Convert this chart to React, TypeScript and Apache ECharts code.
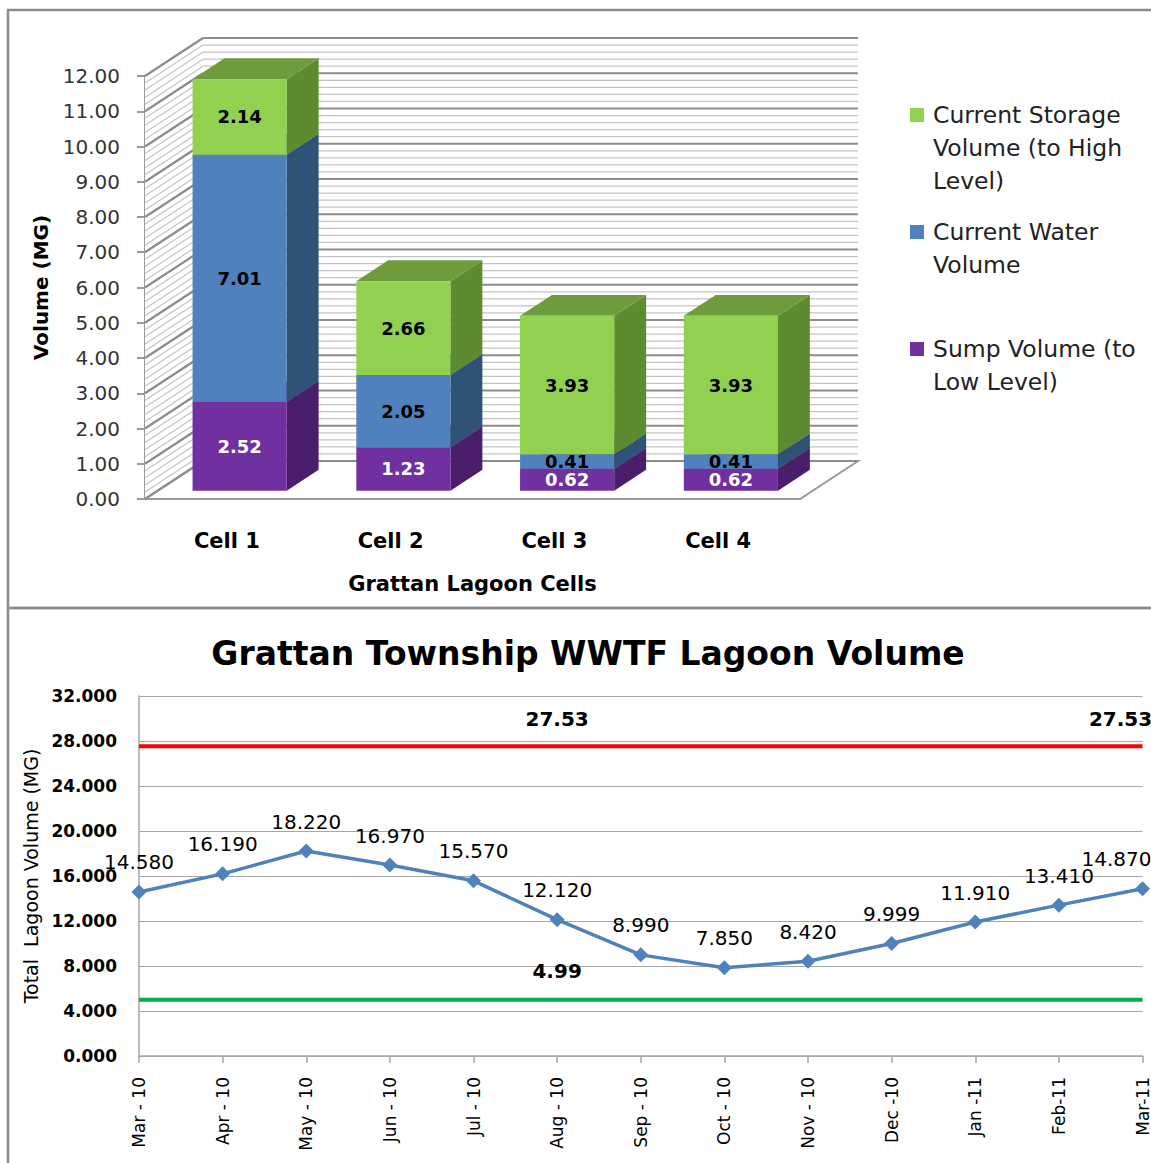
import React, { useEffect, useRef } from 'react';
import * as echarts from 'echarts';

// ---------- Top chart data ----------
const cells = ['Cell 1', 'Cell 2', 'Cell 3', 'Cell 4'];
const sumpVolume = [2.52, 1.23, 0.62, 0.62];
const waterVolume = [7.01, 2.05, 0.41, 0.41];
const storageVolume = [2.14, 2.66, 3.93, 3.93];
const seriesNames = [
  'Current Storage\nVolume (to High\nLevel)',
  'Current Water\nVolume',
  'Sump Volume (to\nLow Level)',
];
const topYMax = 12;
const topYInterval = 1;

// ---------- Bottom chart data ----------
const months = [
  'Mar - 10', 'Apr - 10', 'May - 10', 'Jun - 10', 'Jul - 10', 'Aug - 10', 'Sep - 10',
  'Oct - 10', 'Nov - 10', 'Dec -10', 'Jan -11', 'Feb-11', 'Mar-11',
];
const lagoonVolume = [14.58, 16.19, 18.22, 16.97, 15.57, 12.12, 8.99, 7.85, 8.42, 9.999, 11.91, 13.41, 14.87];
const highLevel = [27.53, 27.53, 27.53, 27.53, 27.53, 27.53, 27.53, 27.53, 27.53, 27.53, 27.53, 27.53, 27.53];
const lowLevel = [4.99, 4.99, 4.99, 4.99, 4.99, 4.99, 4.99, 4.99, 4.99, 4.99, 4.99, 4.99, 4.99];
const highLabelIdx = [5, 12];
const lowLabelIdx = [5];
const bottomYMax = 32;
const bottomYInterval = 4;

const FONT = "'DejaVu Sans', Verdana, sans-serif";

// 3D geometry (styles)
const DEPTH: [number, number] = [58, -38];
const BAR_FRONT = 0.22;
const BAR_DEPTH = 0.55;
const BAR_WIDTH = 0.575;
const MINOR_DIV = 5;

const GREEN = { front: '#92D050', top: '#6E9C3C', side: '#5F8B30' };
const BLUE = { front: '#4F81BD', top: '#4373A8', side: '#2F5277' };
const PURPLE = { front: '#7030A0', top: '#5E2787', side: '#4B1E6B' };

function renderWalls(params: any, api: any) {
  const cs = params.coordSys;
  const x0 = cs.x;
  const x1 = cs.x + cs.width;
  const [dx, dy] = DEPTH;
  const yAt = (v: number) => api.coord([0, v])[1];
  const yTop = yAt(topYMax);
  const yBot = yAt(0);
  const children: any[] = [];
  children.push({
    type: 'polygon',
    shape: { points: [[x0, yTop], [x0 + dx, yTop + dy], [x0 + dx, yBot + dy], [x0, yBot]] },
    style: { fill: '#ffffff' },
  });
  children.push({
    type: 'rect',
    shape: { x: x0 + dx, y: yTop + dy, width: x1 - x0, height: yBot - yTop },
    style: { fill: '#ffffff' },
  });
  children.push({
    type: 'polygon',
    shape: { points: [[x0, yBot], [x1, yBot], [x1 + dx, yBot + dy], [x0 + dx, yBot + dy]] },
    style: { fill: '#ffffff', stroke: '#9a9a9a', lineWidth: 2 },
  });
  const steps = Math.round((topYMax / topYInterval) * MINOR_DIV);
  for (let k = 0; k <= steps; k++) {
    const v = (k / MINOR_DIV) * topYInterval;
    const major = k % MINOR_DIV === 0;
    const y = yAt(v);
    const style = major
      ? { stroke: '#8c8c8c', lineWidth: 2.2 }
      : { stroke: '#c4c4c4', lineWidth: 1.2 };
    children.push({ type: 'line', shape: { x1: x0 + dx, y1: y + dy, x2: x1 + dx, y2: y + dy }, style });
    children.push({ type: 'line', shape: { x1: x0, y1: y, x2: x0 + dx, y2: y + dy }, style });
  }
  return { type: 'group', children };
}

function makeBarSeries(name: string, values: number[], bases: number[], colors: any, labelColor: string) {
  return {
    type: 'custom',
    name,
    xAxisIndex: 0,
    yAxisIndex: 0,
    z: 3,
    clip: false,
    data: values.map((v, i) => [i, bases[i], v]),
    renderItem: (params: any, api: any) => {
      const i = api.value(0);
      const base = api.value(1);
      const v = api.value(2);
      const [cx, yb] = api.coord([i, base]);
      const yt = api.coord([i, base + v])[1];
      const bw = api.size([1, 0])[0] * BAR_WIDTH;
      const ox = DEPTH[0] * BAR_FRONT;
      const oy = DEPTH[1] * BAR_FRONT;
      const bdx = DEPTH[0] * BAR_DEPTH;
      const bdy = DEPTH[1] * BAR_DEPTH;
      const xl = cx - bw / 2 + ox;
      const xr = cx + bw / 2 + ox;
      const yT = yt + oy;
      const yB = yb + oy;
      return {
        type: 'group',
        children: [
          {
            type: 'polygon',
            shape: { points: [[xr, yT], [xr + bdx, yT + bdy], [xr + bdx, yB + bdy], [xr, yB]] },
            style: { fill: colors.side },
          },
          {
            type: 'polygon',
            shape: { points: [[xl, yT], [xr, yT], [xr + bdx, yT + bdy], [xl + bdx, yT + bdy]] },
            style: { fill: colors.top },
          },
          {
            type: 'rect',
            shape: { x: xl, y: yT, width: xr - xl, height: yB - yT },
            style: { fill: colors.front },
          },
          {
            type: 'text',
            z2: 100,
            style: {
              text: v.toFixed(2),
              x: (xl + xr) / 2,
              y: (yT + yB) / 2,
              fill: labelColor,
              fontSize: 18,
              fontWeight: 'bold',
              fontFamily: FONT,
              align: 'center',
              verticalAlign: 'middle',
            },
          },
        ],
      };
    },
  };
}

function buildOption() {
  const sumpBase = sumpVolume.map(() => 0);
  const waterBase = sumpVolume.map((s) => s);
  const storageBase = sumpVolume.map((s, i) => s + waterVolume[i]);

  const legendColors = [GREEN.front, BLUE.front, PURPLE.front];
  const legendY = [115, 232, 349];
  const legendGraphics: any[] = [];
  seriesNames.forEach((n, i) => {
    legendGraphics.push({
      type: 'rect',
      shape: { x: 910, y: legendY[i] - 7, width: 14, height: 14 },
      style: { fill: legendColors[i] },
    });
    legendGraphics.push({
      type: 'text',
      x: 933,
      y: legendY[i] - 16.5,
      style: {
        text: n,
        fontSize: 23.5,
        fontFamily: FONT,
        fill: '#222',
        lineHeight: 33,
        align: 'left',
        verticalAlign: 'top',
      },
    });
  });

  const lineData = lagoonVolume.map((v, i) =>
    i === lagoonVolume.length - 1 ? { value: v, label: { offset: [-26, 0] } } : v
  );
  const highData = highLevel.map((v, i) =>
    highLabelIdx.includes(i)
      ? { value: v, label: { show: true, offset: i === highLevel.length - 1 ? [-22, 0] : [0, 0] } }
      : v
  );
  const lowData = lowLevel.map((v, i) => (lowLabelIdx.includes(i) ? { value: v, label: { show: true } } : v));

  return {
    animation: false,
    backgroundColor: '#ffffff',
    textStyle: { fontFamily: FONT },
    title: {
      text: 'Grattan Township WWTF Lagoon Volume',
      left: 583,
      textAlign: 'center',
      top: 632,
      textStyle: { fontFamily: FONT, fontSize: 33, fontWeight: 'bold', color: '#000' },
    },
    graphic: [
      {
        type: 'rect',
        shape: { x: 8, y: 10, width: 1160, height: 598 },
        style: { fill: 'none', stroke: '#8c8c8c', lineWidth: 2.5 },
        z: -10,
      },
      {
        type: 'rect',
        shape: { x: 8, y: 608, width: 1160, height: 600 },
        style: { fill: 'none', stroke: '#8c8c8c', lineWidth: 2.5 },
        z: -10,
      },
      ...legendGraphics,
    ],
    grid: [
      { left: 145, top: 76, width: 655, height: 423 },
      { left: 139, top: 696, width: 1007, height: 360 },
    ],
    xAxis: [
      {
        type: 'category',
        gridIndex: 0,
        data: cells,
        axisLine: { show: true, lineStyle: { color: '#9a9a9a', width: 2 } },
        axisTick: { show: false },
        axisLabel: { margin: 31, fontSize: 21, fontWeight: 'bold', fontFamily: FONT, color: '#000' },
        name: 'Grattan Lagoon Cells',
        nameLocation: 'middle',
        nameGap: 74,
        nameTextStyle: { fontSize: 21, fontWeight: 'bold', fontFamily: FONT, color: '#000' },
        splitLine: { show: false },
      },
      {
        type: 'category',
        gridIndex: 1,
        data: months,
        boundaryGap: false,
        axisLine: { show: true, lineStyle: { color: '#a6a6a6', width: 1.5 } },
        axisTick: { show: true, length: 7, interval: 0, lineStyle: { color: '#a6a6a6', width: 1.5 } },
        axisLabel: { rotate: 90, interval: 0, margin: 21, fontSize: 17, fontFamily: FONT, color: '#000' },
        splitLine: { show: false },
      },
    ],
    yAxis: [
      {
        type: 'value',
        gridIndex: 0,
        min: 0,
        max: topYMax,
        interval: topYInterval,
        axisLine: { show: true, lineStyle: { color: '#9a9a9a', width: 2 } },
        axisTick: { show: true, length: 8, lineStyle: { color: '#9a9a9a', width: 2 } },
        axisLabel: {
          margin: 25,
          fontSize: 20,
          fontFamily: FONT,
          color: '#333',
          formatter: (v: number) => v.toFixed(2),
        },
        splitLine: { show: false },
        name: 'Volume (MG)',
        nameLocation: 'middle',
        nameGap: 94,
        nameTextStyle: { fontSize: 20, fontWeight: 'bold', fontFamily: FONT, color: '#000' },
      },
      {
        type: 'value',
        gridIndex: 1,
        min: 0,
        max: bottomYMax,
        interval: bottomYInterval,
        axisLine: { show: true, lineStyle: { color: '#a6a6a6', width: 1.5 } },
        axisTick: { show: false },
        axisLabel: {
          margin: 22,
          fontSize: 17,
          fontWeight: 'bold',
          fontFamily: FONT,
          color: '#000',
          formatter: (v: number) => v.toFixed(3),
        },
        splitLine: { show: true, lineStyle: { color: '#a6a6a6', width: 1.2 } },
        name: 'Total  Lagoon Volume (MG)',
        nameLocation: 'middle',
        nameGap: 99,
        nameTextStyle: { fontSize: 19, fontFamily: FONT, color: '#000' },
      },
    ],
    series: [
      {
        type: 'custom',
        name: 'walls',
        xAxisIndex: 0,
        yAxisIndex: 0,
        z: 1,
        clip: false,
        silent: true,
        data: [[0, 0]],
        renderItem: renderWalls,
      },
      makeBarSeries(seriesNames[2], sumpVolume, sumpBase, PURPLE, '#ffffff'),
      makeBarSeries(seriesNames[1], waterVolume, waterBase, BLUE, '#000000'),
      makeBarSeries(seriesNames[0], storageVolume, storageBase, GREEN, '#000000'),
      {
        type: 'line',
        name: 'High Level',
        xAxisIndex: 1,
        yAxisIndex: 1,
        data: highData,
        symbol: 'circle',
        symbolSize: 1,
        showSymbol: true,
        itemStyle: { color: 'rgba(0,0,0,0)' },
        lineStyle: { color: '#FF0000', width: 4 },
        label: {
          show: false,
          position: 'top',
          distance: 17,
          fontSize: 20,
          fontWeight: 'bold',
          fontFamily: FONT,
          color: '#000',
          formatter: (p: any) => Number(p.value).toFixed(2),
        },
        z: 2,
      },
      {
        type: 'line',
        name: 'Low Level',
        xAxisIndex: 1,
        yAxisIndex: 1,
        data: lowData,
        symbol: 'circle',
        symbolSize: 1,
        showSymbol: true,
        itemStyle: { color: 'rgba(0,0,0,0)' },
        lineStyle: { color: '#00B050', width: 4 },
        label: {
          show: false,
          position: 'top',
          distance: 18,
          fontSize: 20,
          fontWeight: 'bold',
          fontFamily: FONT,
          color: '#000',
          formatter: (p: any) => Number(p.value).toFixed(2),
        },
        z: 2,
      },
      {
        type: 'line',
        name: 'Lagoon Volume',
        xAxisIndex: 1,
        yAxisIndex: 1,
        data: lineData,
        symbol: 'diamond',
        symbolSize: 15,
        lineStyle: { color: '#4F81BD', width: 3.5 },
        itemStyle: { color: '#4F81BD' },
        label: {
          show: true,
          position: 'top',
          distance: 12,
          fontSize: 20,
          fontFamily: FONT,
          color: '#000',
          formatter: (p: any) => Number(p.value).toFixed(3),
        },
        z: 3,
      },
    ],
  };
}

export default function App() {
  const ref = useRef<HTMLDivElement>(null);
  useEffect(() => {
    const chart = echarts.init(ref.current as HTMLDivElement, null, { renderer: 'svg' });
    chart.setOption(buildOption() as any);
    return () => chart.dispose();
  }, []);
  return (
    <div
      ref={ref}
      style={{ position: 'absolute', left: 0, top: 0, width: 1151, height: 1163, background: '#fff' }}
    />
  );
}
